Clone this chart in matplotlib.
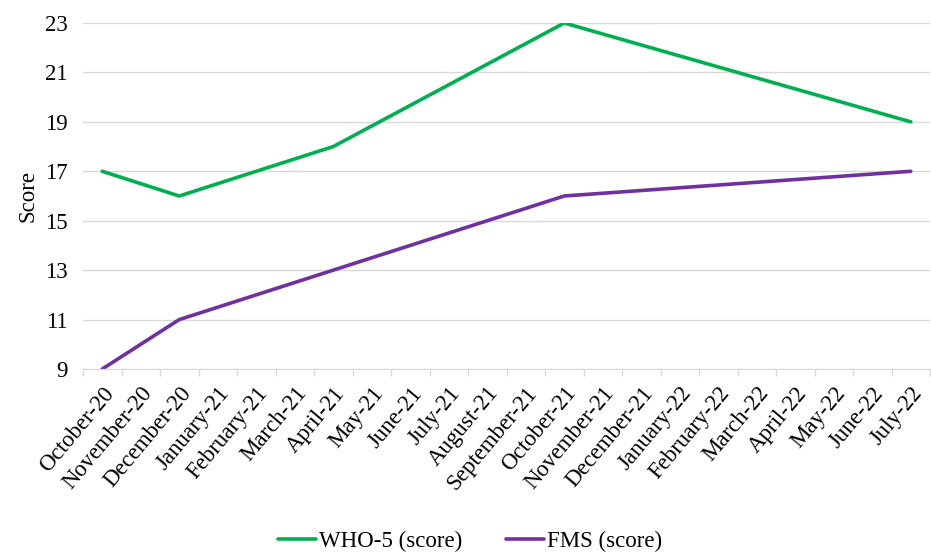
import matplotlib.pyplot as plt
from matplotlib.ticker import FixedLocator

plt.rcParams['font.family'] = ['Liberation Serif', 'DejaVu Serif']

months = ["October-20", "November-20", "December-20", "January-21", "February-21",
          "March-21", "April-21", "May-21", "June-21", "July-21", "August-21",
          "September-21", "October-21", "November-21", "December-21", "January-22",
          "February-22", "March-22", "April-22", "May-22", "June-22", "July-22"]

# survey waves (only these months have measurements)
waves = ["October-20", "December-20", "April-21", "October-21", "July-22"]
who5 = [17, 16, 18, 23, 19]
fms = [9, 11, 13, 16, 17]

x = [months.index(m) for m in waves]

fig = plt.figure(figsize=(9.31, 5.52), dpi=100)
ax = fig.add_axes([83 / 931, 1 - 369 / 552, (930 - 83) / 931, (369 - 23) / 552])

ax.plot(x, who5, color="#00B050", lw=2.6, label="WHO-5 (score)", solid_capstyle="round")
ax.plot(x, fms, color="#7030A0", lw=2.6, label="FMS (score)", solid_capstyle="round")

ax.set_xlim(-0.5, len(months) - 0.5)
ax.set_ylim(9, 23)
ax.set_yticks(range(9, 24, 2))
ax.yaxis.grid(True, color="#d9d9d9", lw=1)
ax.set_axisbelow(True)

ax.set_xticks(range(len(months)))
ax.set_xticklabels(months, rotation=50, ha="right", rotation_mode="anchor")
ax.xaxis.set_minor_locator(FixedLocator([i - 0.5 for i in range(len(months) + 1)]))
ax.tick_params(axis="x", which="major", length=0, pad=10, labelsize=16.5)
ax.tick_params(axis="x", which="minor", length=5, color="#d9d9d9", width=1)
ax.tick_params(axis="y", length=0, pad=11, labelsize=16.5)

for s in ["top", "right", "left"]:
    ax.spines[s].set_visible(False)
ax.spines["bottom"].set_color("#d9d9d9")

ax.set_ylabel("Score", fontsize=16.5, labelpad=5)

fig.legend(loc="center", bbox_to_anchor=(470 / 931, 1 - 541 / 552), ncol=2,
           frameon=False, fontsize=16.5, handlelength=1.65, handletextpad=0.15,
           columnspacing=1.9)

fig.savefig("out.png", dpi=100)
